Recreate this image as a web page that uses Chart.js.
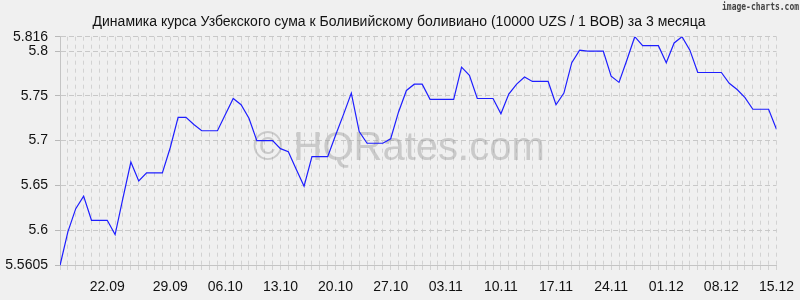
<!DOCTYPE html>
<html>
<head>
<meta charset="utf-8">
<script src="https://cdn.jsdelivr.net/npm/chart.js@4/dist/chart.umd.min.js"></script>
<style>
  html, body { margin: 0; padding: 0; background: #f0f0f0; }
  #wrap { width: 800px; height: 300px; }
</style>
</head>
<body>
<div id="wrap"><canvas id="c" width="800" height="300"></canvas></div>
<script>
// ---- data (daily, 15.09 .. 15.12) ----
const titleText = 'Динамика курса Узбекского сума к Боливийскому боливиано (10000 UZS / 1 BOB) за 3 месяца';
const watermarkText = '© HQRates.com';
const logoText = 'image-charts.com';

const rates = [
  5.5605, 5.598, 5.624, 5.638, 5.611, 5.611, 5.611, 5.595, 5.636, 5.676,
  5.655, 5.664, 5.664, 5.664, 5.692, 5.726, 5.726, 5.718, 5.711, 5.711,
  5.711, 5.729, 5.747, 5.740, 5.725, 5.700, 5.700, 5.700, 5.691, 5.6875,
  5.668, 5.649, 5.682, 5.682, 5.682, 5.706, 5.729, 5.753, 5.710, 5.697,
  5.697, 5.697, 5.702, 5.732, 5.756, 5.763, 5.763, 5.746, 5.746, 5.746,
  5.746, 5.782, 5.773, 5.747, 5.747, 5.747, 5.730, 5.752, 5.763, 5.771,
  5.766, 5.766, 5.766, 5.740, 5.753, 5.787, 5.801, 5.800, 5.800, 5.800,
  5.772, 5.765, 5.790, 5.816, 5.806, 5.806, 5.806, 5.787, 5.809, 5.816,
  5.801, 5.776, 5.776, 5.776, 5.776, 5.764, 5.757, 5.748, 5.735, 5.735,
  5.735, 5.7125
];

const xTickLabels = ['22.09','29.09','06.10','13.10','20.10','27.10','03.11','10.11','17.11','24.11','01.12','08.12','15.12'];
const xTickIndex  = [6, 14, 21, 28, 35, 42, 49, 56, 63, 70, 77, 84, 91];

const yTickValues = [5.5605, 5.6, 5.65, 5.7, 5.75, 5.8, 5.816];
const yTickLabels = ['5.5605', '5.6', '5.65', '5.7', '5.75', '5.8', '5.816'];

// ---- chart ----
const FONT = "'Liberation Sans', Arial, sans-serif";
const points = rates.map((v, i) => ({ x: i, y: v }));

const decor = {
  id: 'decor',
  beforeDraw(chart) {
    const ctx = chart.ctx;
    ctx.save();
    ctx.fillStyle = '#f0f0f0';
    ctx.fillRect(0, 0, chart.width, chart.height);
    // title
    ctx.fillStyle = '#111';
    ctx.font = '14px ' + FONT;
    ctx.textAlign = 'center';
    ctx.textBaseline = 'alphabetic';
    ctx.fillText(titleText, 399, 25.5);
    // logo
    ctx.font = 'bold 11px "DejaVu Sans Mono", monospace';
    const w = ctx.measureText(logoText).width;
    ctx.translate(722, 10);
    ctx.scale(77 / w, 1);
    ctx.textAlign = 'left';
    ctx.fillStyle = '#444';
    ctx.fillText(logoText, 0, 0);
    ctx.restore();
  },
  beforeDatasetsDraw(chart) {
    const ctx = chart.ctx;
    ctx.save();
    ctx.font = '40px ' + FONT;
    ctx.fillStyle = 'rgba(150,150,150,0.42)';
    ctx.textAlign = 'left';
    ctx.textBaseline = 'alphabetic';
    ctx.fillText(watermarkText, 253, 160);
    ctx.restore();
  }
};

new Chart(document.getElementById('c'), {
  type: 'line',
  data: {
    datasets: [{
      data: points,
      borderColor: '#1e1eff',
      borderWidth: 1.2,
      pointRadius: 0,
      tension: 0,
      fill: false
    }]
  },
  options: {
    responsive: false,
    animation: false,
    layout: { padding: { left: 0, right: 21, top: 36.7, bottom: 0 } },
    plugins: { legend: { display: false }, title: { display: false }, tooltip: { enabled: false } },
    scales: {
      x: {
        type: 'linear',
        min: 0,
        max: rates.length - 1,
        afterBuildTicks(scale) {
          scale.ticks = rates.map((_, i) => ({ value: i }));
        },
        afterFit(scale) { scale.height = 34.5; },
        ticks: {
          autoSkip: false,
          maxRotation: 0,
          padding: 6,
          color: '#111',
          font: { family: FONT, size: 14 },
          callback(value) {
            const k = xTickIndex.indexOf(value);
            return k >= 0 ? xTickLabels[k] : '';
          }
        },
        grid: {
          color: '#d2d2d2',
          lineWidth: 1,
          drawTicks: true,
          tickLength: 7,
          tickColor: '#d2d2d2',
          tickBorderDash: [4, 4]
        },
        border: { display: true, color: '#c4c4c4', dash: [4, 4] }
      },
      y: {
        type: 'linear',
        min: yTickValues[0],
        max: yTickValues[yTickValues.length - 1],
        afterBuildTicks(scale) {
          scale.ticks = yTickValues.map(v => ({ value: v }));
        },
        afterFit(scale) { scale.width = 60; },
        ticks: {
          autoSkip: false,
          padding: 7,
          color: '#111',
          font: { family: FONT, size: 14 },
          callback(value) {
            const k = yTickValues.indexOf(value);
            return k >= 0 ? yTickLabels[k] : '';
          }
        },
        grid: {
          color: '#c8c8c8',
          lineWidth: 1,
          drawTicks: true,
          tickLength: 5,
          tickColor: '#b8b8b8'
        },
        border: { display: true, color: '#c4c4c4', dash: [5, 3] }
      }
    }
  },
  plugins: [decor]
});
</script>
</body>
</html>
